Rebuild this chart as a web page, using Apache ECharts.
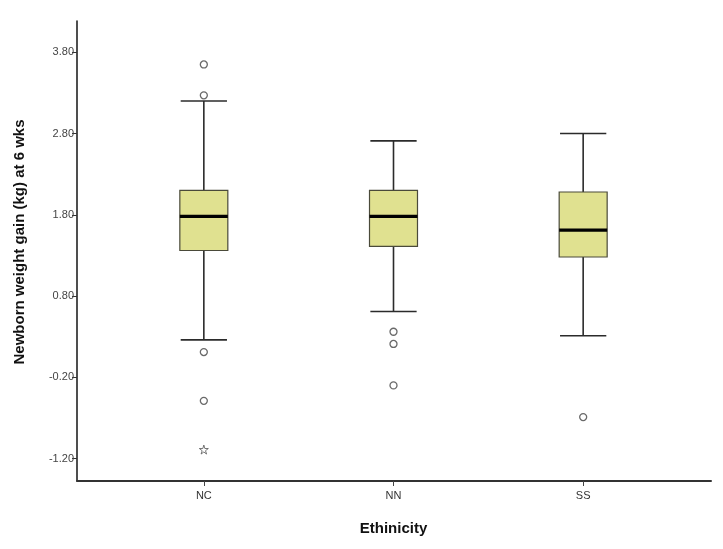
<!DOCTYPE html>
<html>
<head>
<meta charset="utf-8">
<script src="https://cdn.jsdelivr.net/npm/echarts@6/dist/echarts.min.js"></script>
<style>
html,body{margin:0;padding:0;background:#fff;}
#chart{width:723px;height:549px;}
</style>
</head>
<body>
<div id="chart"></div>
<script>
// ---- data ----
const categories = ['NC', 'NN', 'SS'];
// [low whisker, Q1, median, Q3, high whisker]
const boxNC = [0.26, 1.36, 1.78, 2.10, 3.20];
const boxNN = [0.61, 1.41, 1.78, 2.10, 2.71];
const boxSS = [0.31, 1.28, 1.61, 2.08, 2.80];
const outliersNC = [3.65, 3.27, 0.11, -0.49];
const outliersNN = [0.36, 0.21, -0.30];
const outliersSS = [-0.69];
const extremesNC = [-1.09];
const yTicks = [-1.2, -0.2, 0.8, 1.8, 2.8, 3.8];
const yMin = -1.477, yMax = 4.185;

const boxes = [boxNC, boxNN, boxSS];
const outlierGroups = [outliersNC, outliersNN, outliersSS];
const extremeGroups = [extremesNC, [], []];

const boxData = boxes.map((b, i) => [i].concat(b));
const outlierData = [];
outlierGroups.forEach((g, i) => g.forEach(v => outlierData.push([categories[i], v])));
const extremeData = [];
extremeGroups.forEach((g, i) => g.forEach(v => extremeData.push([categories[i], v])));

const FONT = "'Liberation Sans', Arial, sans-serif";
const starPath = 'path://M50,0 L61,35 L98,35 L68,57 L79,91 L50,70 L21,91 L32,57 L2,35 L39,35 Z';

function renderBox(params, api) {
  const idx = api.value(0);
  const band = api.size([1, 0])[0];
  const bw = band * 0.253;
  const cw = band * 0.122;
  const pLow = api.coord([idx, api.value(1)]);
  const pQ1 = api.coord([idx, api.value(2)]);
  const pMed = api.coord([idx, api.value(3)]);
  const pQ3 = api.coord([idx, api.value(4)]);
  const pHigh = api.coord([idx, api.value(5)]);
  const x = pMed[0];
  const lineStyle = { stroke: '#2b2b2b', lineWidth: 1.6 };
  return {
    type: 'group',
    children: [
      { type: 'line', shape: { x1: x, y1: pQ3[1], x2: x, y2: pHigh[1] }, style: lineStyle },
      { type: 'line', shape: { x1: x, y1: pQ1[1], x2: x, y2: pLow[1] }, style: lineStyle },
      { type: 'line', shape: { x1: x - cw, y1: pHigh[1], x2: x + cw, y2: pHigh[1] }, style: lineStyle },
      { type: 'line', shape: { x1: x - cw, y1: pLow[1], x2: x + cw, y2: pLow[1] }, style: lineStyle },
      { type: 'rect', shape: { x: x - bw / 2, y: pQ3[1], width: bw, height: pQ1[1] - pQ3[1] },
        style: { fill: '#e0e190', stroke: '#4a4a3a', lineWidth: 1.2 } },
      { type: 'line', shape: { x1: x - bw / 2, y1: pMed[1], x2: x + bw / 2, y2: pMed[1] },
        style: { stroke: '#000', lineWidth: 3.2 } }
    ]
  };
}

const chart = echarts.init(document.getElementById('chart'), null, { renderer: 'canvas' });
chart.setOption({
  animation: false,
  backgroundColor: '#fff',
  grid: [
    { left: 77, right: 12, top: 21, bottom: 68 },
    { left: 109, right: 45, top: 21, bottom: 68 }
  ],
  xAxis: [
    {
      gridIndex: 0, type: 'value', min: 0, max: 1,
      axisLine: { show: true, onZero: false, lineStyle: { color: '#333', width: 2 } },
      axisTick: { show: false }, axisLabel: { show: false }, splitLine: { show: false }
    },
    {
      gridIndex: 1, type: 'category', data: categories,
      axisLine: { show: false, onZero: false },
      axisTick: { show: true, alignWithLabel: true, length: 5, lineStyle: { color: '#444', width: 1 } },
      axisLabel: { color: '#333', fontSize: 11, fontFamily: FONT, margin: 9 },
      name: 'Ethinicity', nameLocation: 'middle', nameGap: 40,
      nameTextStyle: { color: '#111', fontSize: 15, fontWeight: 'bold', fontFamily: FONT }
    }
  ],
  yAxis: [
    {
      gridIndex: 0, type: 'value', min: yMin, max: yMax,
      axisLine: { show: true, onZero: false, lineStyle: { color: '#222', width: 1.6 } },
      axisTick: { show: true, length: 5, customValues: yTicks, lineStyle: { color: '#333', width: 1 } },
      axisLabel: { show: true, customValues: yTicks, color: '#444', fontSize: 11, fontFamily: FONT, margin: 3,
        formatter: v => v.toFixed(2) },
      splitLine: { show: false },
      name: 'Newborn weight gain (kg) at 6 wks', nameLocation: 'middle', nameGap: 50,
      nameTextStyle: { color: '#111', fontSize: 15, fontWeight: 'bold', fontFamily: FONT, padding: [0, 0, 0, 18] }
    },
    {
      gridIndex: 1, type: 'value', min: yMin, max: yMax, show: false,
      splitLine: { show: false }
    }
  ],
  series: [
    {
      type: 'custom', xAxisIndex: 1, yAxisIndex: 1,
      renderItem: renderBox, data: boxData,
      encode: { x: 0, y: [1, 2, 3, 4, 5] }
    },
    {
      type: 'scatter', xAxisIndex: 1, yAxisIndex: 1,
      data: outlierData, symbol: 'circle', symbolSize: 7,
      itemStyle: { color: '#fff', borderColor: '#444', borderWidth: 1.3 }
    },
    {
      type: 'scatter', xAxisIndex: 1, yAxisIndex: 1,
      data: extremeData, symbol: starPath, symbolSize: 9,
      itemStyle: { color: '#fff', borderColor: '#555', borderWidth: 1 }
    }
  ]
});
</script>
</body>
</html>
